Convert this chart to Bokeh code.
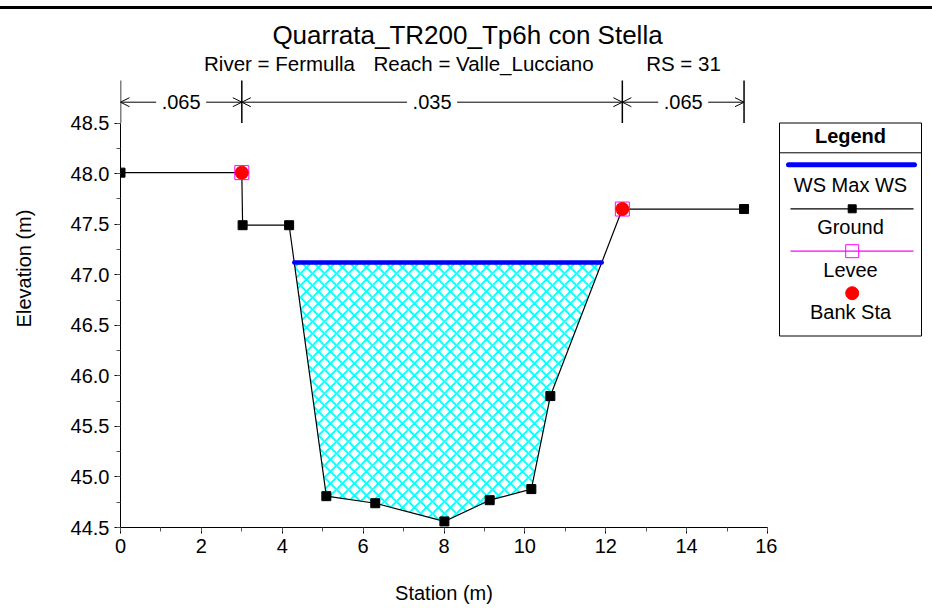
import numpy as np
from bokeh.plotting import figure
from bokeh.models import Range1d, Arrow, OpenHead, Div, FixedTicker, PrintfTickFormatter
from bokeh.layouts import row, column
from bokeh.core.properties import value
from bokeh.embed import file_html
from bokeh.resources import INLINE

# ---------------- data ----------------
title_text = "Quarrata_TR200_Tp6h con Stella"
subtitle_parts = ["River = Fermulla", "Reach = Valle_Lucciano", "RS = 31"]
x_label = "Station (m)"
y_label = "Elevation (m)"

station = [0.0, 3.0, 3.02, 4.17, 5.09, 6.30, 8.01, 9.13, 10.16, 10.63, 12.41, 15.42]
elevation = [48.01, 48.01, 47.49, 47.49, 44.81, 44.74, 44.56, 44.77, 44.88, 45.80, 47.65, 47.65]
bank_station = [3.0, 12.41]
bank_elevation = [48.01, 47.65]
levee_station = [3.0, 12.41]
levee_elevation = [48.01, 47.65]
ws_elevation = 47.12
n_station = [0.0, 3.0, 12.41, 15.42]
n_values = [".065", ".035", ".065"]
legend_title = "Legend"
legend_names = ["WS Max WS", "Ground", "Levee", "Bank Sta"]
x_ticks = [0, 2, 4, 6, 8, 10, 12, 14, 16]
x_minor = list(range(0, 17))
y_ticks = [44.5, 45.0, 45.5, 46.0, 46.5, 47.0, 47.5, 48.0, 48.5]
y_minor = [44.5 + 0.25 * i for i in range(17)]

FONT = value("Liberation Sans")
BLUE = "#0000FF"
MAGENTA = "#FF00FF"
RED = "#FF0000"

# water polygon from ground / WS intersection
st = np.array(station)
el = np.array(elevation)
ws = ws_elevation
imin = int(np.argmin(el))
i = imin
while el[i - 1] < ws:
    i -= 1
xl = st[i - 1] + (ws - el[i - 1]) / (el[i] - el[i - 1]) * (st[i] - st[i - 1])
j = imin
while el[j + 1] < ws:
    j += 1
xr = st[j] + (ws - el[j]) / (el[j + 1] - el[j]) * (st[j + 1] - st[j])
poly_x = [xl] + list(st[i:j + 1]) + [xr]
poly_y = [ws] + list(el[i:j + 1]) + [ws]

# ---------------- layout geometry (page pixels) ----------------
BAR_TOP, BAR_H = 6, 3
TOP = BAR_TOP + BAR_H          # figures start here
FRAME_L, FRAME_R = 120, 767
FRAME_B = 527
FW = FRAME_R - FRAME_L
FH = FRAME_B - TOP
ML, MR, MB = FRAME_L, 10, 80
x0, x1 = x_ticks[0], x_ticks[-1]
X_PPU = FW / (x1 - x0)
Y_PPU = 101.1
y0 = y_ticks[0]
y1 = y0 + FH / Y_PPU


def dx(page_x):
    return x0 + (page_x - FRAME_L) / X_PPU


def dy(page_y):
    return y0 + (FRAME_B - page_y) / Y_PPU


# ---------------- main figure ----------------
p = figure(frame_width=FW, frame_height=FH, x_range=Range1d(x0, x1), y_range=Range1d(y0, y1),
           min_border_left=ML, min_border_right=MR, min_border_top=0, min_border_bottom=MB,
           output_backend="svg", toolbar_location=None, title=None)
p.outline_line_color = None
p.grid.visible = False
p.background_fill_color = "white"
p.border_fill_color = "white"

for ax in (p.xaxis[0], p.yaxis[0]):
    ax.axis_line_color = "black"
    ax.axis_line_width = 1
    ax.major_tick_in = 0
    ax.major_tick_out = 6
    ax.minor_tick_in = 0
    ax.minor_tick_out = 4
    ax.major_tick_line_color = "black"
    ax.minor_tick_line_color = "#555555"
    ax.major_label_text_font = "Liberation Sans"
    ax.major_label_text_font_size = "20px"
    ax.major_label_text_color = "black"
    ax.axis_label_text_font = "Liberation Sans"
    ax.axis_label_text_font_size = "20px"
    ax.axis_label_text_font_style = "normal"
    ax.axis_label_text_color = "black"
    ax.major_label_standoff = 5

p.xaxis.ticker = FixedTicker(ticks=x_ticks, minor_ticks=x_minor)
p.yaxis.ticker = FixedTicker(ticks=y_ticks, minor_ticks=y_minor)
p.yaxis.formatter = PrintfTickFormatter(format="%.1f")
p.yaxis.bounds = (y_ticks[0], y_ticks[-1])
p.xaxis.axis_label = x_label
p.yaxis.axis_label = y_label
p.xaxis.axis_label_standoff = 26
p.yaxis.axis_label_standoff = 33

# water area hatch
p.patch(poly_x, poly_y, fill_color="white", fill_alpha=0.0, line_color=None,
        hatch_pattern="x", hatch_color="#00FFFF", hatch_scale=12, hatch_weight=1.8)
# ground
p.line(station, elevation, line_color="black", line_width=1.2)
# WS
p.line([xl, xr], [ws, ws], line_color=BLUE, line_width=4.5, line_cap="round")
p.scatter(station, elevation, marker="square", size=9, color="black")
# levee + bank
p.scatter(levee_station, levee_elevation, marker="square", size=14, fill_color=None,
          line_color=MAGENTA, line_width=1)
p.scatter(bank_station, bank_elevation, marker="circle", size=13, color=RED)

# Manning n markers
y_n = dy(101.7)
p.segment(x0=n_station, y0=[y_ticks[-1]] * len(n_station), x1=n_station,
          y1=[dy(80)] * len(n_station), line_color="black", line_width=1.5)
gap = 25 / X_PPU
mids = [(n_station[k] + n_station[k + 1]) / 2 for k in range(len(n_values))]
p.text(x=mids, y=[y_n] * len(mids), text=n_values, text_font=FONT, text_font_size="20px",
       text_align="center", text_baseline="middle", text_color="black")
for k, m in enumerate(mids):
    for tgt, s in ((n_station[k], -1), (n_station[k + 1], 1)):
        p.add_layout(Arrow(end=OpenHead(size=9, line_width=1, line_color="black"),
                           x_start=m + s * gap, y_start=y_n, x_end=tgt, y_end=y_n,
                           line_width=1, line_color="black"))

# titles (drawn inside the tall frame, above the axis bounds)
p.text(x=[dx(467)], y=[dy(34)], text=[title_text], text_font=FONT, text_font_size="26px",
       text_align="center", text_baseline="middle", text_color="black")
sub_centers = [279, 483, 683]
p.text(x=[dx(c) for c in sub_centers], y=[dy(63)] * 3, text=subtitle_parts, text_font=FONT,
       text_font_size="20.5px", text_align="center", text_baseline="middle", text_color="black")

# ---------------- legend figure (page-pixel coordinates) ----------------
LW = 147
LX0 = FRAME_L + FW + MR
lg = figure(width=LW, height=FH + MB, x_range=Range1d(LX0, LX0 + LW), y_range=Range1d(FRAME_B, TOP),
            x_axis_location=None, y_axis_location=None, output_backend="svg",
            toolbar_location=None, title=None)
lg.min_border_left = lg.min_border_right = lg.min_border_top = 0
lg.min_border_bottom = MB
lg.outline_line_color = None
lg.grid.visible = False
lg.quad(left=779, right=921, top=122.5, bottom=335.5, fill_color="white", line_color="black", line_width=1)
lg.segment(x0=779, y0=152.3, x1=921, y1=152.3, line_color="black", line_width=1)
cx = 850
lg.text(x=[cx], y=[135], text=[legend_title], text_font=FONT, text_font_size="20px",
        text_font_style="bold", text_align="center", text_baseline="middle", text_color="black")
lg.line([788, 914], [164.3, 164.3], line_color=BLUE, line_width=5, line_cap="round")
lg.line([790, 913], [208.3, 208.3], line_color="black", line_width=1.2)
lg.scatter([851.7], [208.3], marker="square", size=8, color="black")
lg.line([790, 913], [250.7, 250.7], line_color=MAGENTA, line_width=1.2)
lg.scatter([851.7], [250.7], marker="square", size=13, fill_color=None, line_color=MAGENTA, line_width=1)
lg.scatter([851.7], [292.7], marker="circle", size=13, color=RED)
lg.text(x=[cx] * 4, y=[184, 226.7, 269.3, 311.7], text=legend_names, text_font=FONT,
        text_font_size="20px", text_align="center", text_baseline="middle", text_color="black")

bar = Div(text="", width=932, height=BAR_H, styles={"background-color": "black"},
          margin=(BAR_TOP, 0, 0, 0))
layout = column(bar, row(p, lg, spacing=0), spacing=0)

open("out.html", "w").write(file_html(layout, INLINE))
